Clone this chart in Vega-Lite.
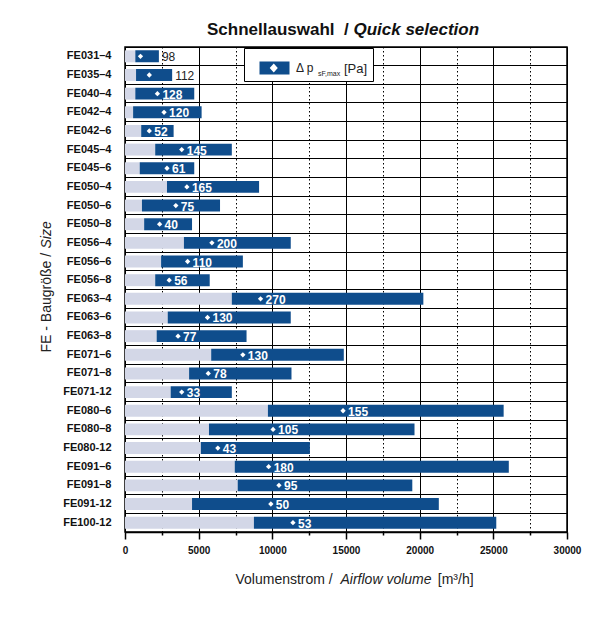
{
  "$schema": "https://vega.github.io/schema/vega-lite/v6.json",
  "autosize": "none",
  "width": 442,
  "height": 485,
  "padding": {"left": 125, "top": 47, "right": 48, "bottom": 86},
  "background": "white",
  "config": {
    "font": "Liberation Sans",
    "view": {"stroke": "black", "strokeWidth": 1.5},
    "axis": {"titleFont": "Liberation Sans", "labelFont": "Liberation Sans"}
  },
  "title": {
    "text": "Schnellauswahl\u00a0\u00a0/",
    "subtitle": "\u200b\u00a0\u00a0\u00a0\u00a0\u00a0\u00a0\u00a0\u00a0\u00a0\u00a0\u00a0\u00a0\u00a0\u00a0\u00a0\u00a0\u00a0\u00a0\u00a0\u00a0\u00a0\u00a0\u00a0\u00a0\u00a0\u00a0\u00a0\u00a0\u00a0\u00a0\u00a0Quick selection",
    "anchor": "start",
    "frame": "group",
    "dx": 82,
    "offset": 8,
    "fontSize": 17,
    "fontWeight": "bold",
    "color": "#111",
    "subtitleFontSize": 17,
    "subtitleFontWeight": "bold",
    "subtitleFontStyle": "italic",
    "subtitleColor": "#111",
    "subtitlePadding": -17,
    "font": "Liberation Sans",
    "subtitleFont": "Liberation Sans"
  },
  "data": {
    "values": [
      {"size": "FE031–4", "start": 700, "end": 2300, "pt": 1050, "dp": 98},
      {"size": "FE035–4", "start": 750, "end": 3200, "pt": 1650, "dp": 112},
      {"size": "FE040–4", "start": 700, "end": 4700, "pt": 2200, "dp": 128},
      {"size": "FE042–4", "start": 550, "end": 5200, "pt": 2650, "dp": 120},
      {"size": "FE042–6", "start": 1100, "end": 3300, "pt": 1650, "dp": 52},
      {"size": "FE045–4", "start": 2050, "end": 7250, "pt": 3850, "dp": 145},
      {"size": "FE045–6", "start": 1000, "end": 4700, "pt": 2850, "dp": 61},
      {"size": "FE050–4", "start": 2850, "end": 9100, "pt": 4200, "dp": 165},
      {"size": "FE050–6", "start": 1150, "end": 6450, "pt": 3450, "dp": 75},
      {"size": "FE050–8", "start": 1300, "end": 4550, "pt": 2350, "dp": 40},
      {"size": "FE056–4", "start": 4000, "end": 11250, "pt": 5900, "dp": 200},
      {"size": "FE056–6", "start": 2450, "end": 8000, "pt": 4250, "dp": 110},
      {"size": "FE056–8", "start": 2050, "end": 5750, "pt": 3000, "dp": 56},
      {"size": "FE063–4", "start": 7250, "end": 20250, "pt": 9200, "dp": 270},
      {"size": "FE063–6", "start": 2900, "end": 11250, "pt": 5600, "dp": 130},
      {"size": "FE063–8", "start": 2150, "end": 8250, "pt": 3600, "dp": 77},
      {"size": "FE071–6", "start": 5850, "end": 14850, "pt": 8000, "dp": 130},
      {"size": "FE071–8", "start": 4350, "end": 11300, "pt": 5650, "dp": 78},
      {"size": "FE071-12", "start": 3100, "end": 7250, "pt": 3850, "dp": 33},
      {"size": "FE080–6", "start": 9700, "end": 25700, "pt": 14800, "dp": 155},
      {"size": "FE080–8", "start": 5700, "end": 19650, "pt": 10050, "dp": 105},
      {"size": "FE080-12", "start": 5150, "end": 12550, "pt": 6300, "dp": 43},
      {"size": "FE091–6", "start": 7450, "end": 26050, "pt": 9750, "dp": 180},
      {"size": "FE091–8", "start": 7650, "end": 19500, "pt": 10450, "dp": 95},
      {"size": "FE091-12", "start": 4550, "end": 21300, "pt": 9900, "dp": 50},
      {"size": "FE100-12", "start": 8750, "end": 25200, "pt": 11400, "dp": 53}
    ]
  },
  "resolve": {"axis": {"x": "independent", "y": "independent"}},
  "layer": [
    {
      "mark": {"type": "bar", "color": "#d3d7e7", "height": {"band": 0.64}},
      "encoding": {
        "y": {
          "field": "size", "type": "nominal", "sort": null,
          "scale": {"paddingInner": 0, "paddingOuter": 0},
          "axis": {
            "orient": "left",
            "title": "FE - Baugröße /",
            "titleFontSize": 14, "titleFontWeight": "normal", "titleColor": "#222",
            "titleAngle": -90, "titleAlign": "left", "titleBaseline": "alphabetic",
            "titleX": -75, "titleY": 305,
            "labelFontSize": 11, "labelFontWeight": "bold", "labelColor": "#111",
            "labelPadding": 14, "ticks": false, "domain": false,
            "grid": true, "gridColor": "black", "gridWidth": 1, "bandPosition": 0, "gridOpacity": 1
          }
        },
        "x": {
          "field": "start", "type": "quantitative",
          "scale": {"domain": [0, 30000], "nice": false},
          "axis": {
            "orient": "bottom",
            "values": [0, 2500, 5000, 7500, 10000, 12500, 15000, 17500, 20000, 22500, 25000, 27500, 30000],
            "format": "d",
            "labelExpr": "datum.value % 5000 === 0 ? datum.label : ''",
            "labelFontSize": 10, "labelFontWeight": "bold", "labelColor": "#111",
            "labelPadding": 6, "labelFlush": false,
            "tickColor": "black", "tickWidth": 1.5,
            "tickSize": {"condition": {"test": "datum.value % 5000 === 0", "value": 7}, "value": 3},
            "domainColor": "black", "domainWidth": 1.5,
            "grid": true, "gridColor": "black", "gridWidth": 1, "gridOpacity": 1,
            "gridDash": {"condition": {"test": "datum.value % 5000 !== 0", "value": [1.5, 2.5]}, "value": []},
            "title": "Volumenstrom /\u00a0\u00a0\u00a0\u00a0\u00a0\u00a0\u00a0\u00a0\u00a0\u00a0\u00a0\u00a0\u00a0\u00a0\u00a0\u00a0\u00a0\u00a0\u00a0\u00a0\u00a0\u00a0\u00a0\u00a0\u00a0\u00a0\u00a0[m³/h]",
            "titleFontSize": 14, "titleFontWeight": "normal", "titleColor": "#222",
            "titleAlign": "left", "titleBaseline": "alphabetic",
            "titleX": 110, "titleY": 51
          }
        }
      }
    },
    {
      "mark": {"type": "bar", "height": {"band": 0.64}},
      "encoding": {
        "y": {
          "field": "size", "type": "nominal", "sort": null,
          "axis": {
            "orient": "right", "labels": false, "ticks": false, "domain": false, "grid": false,
            "title": "Size", "titleFontSize": 14, "titleFontWeight": "normal", "titleFontStyle": "italic", "titleColor": "#222",
            "titleAngle": -90, "titleAlign": "left", "titleBaseline": "alphabetic",
            "titleX": -517, "titleY": 201
          }
        },
        "x": {
          "field": "start", "type": "quantitative",
          "axis": {
            "orient": "top", "labels": false, "ticks": false, "domain": false, "grid": false,
            "title": "Airflow volume", "titleFontSize": 14, "titleFontWeight": "normal", "titleFontStyle": "italic", "titleColor": "#222",
            "titleAlign": "left", "titleBaseline": "alphabetic",
            "titleX": 215, "titleY": 536
          }
        },
        "x2": {"field": "end"},
        "color": {
          "datum": "Δ p",
          "scale": {"range": ["#0f4d8c"]},
          "legend": {
            "orient": "none", "legendX": 119, "legendY": 1,
            "title": "[Pa]", "titleOrient": "right", "titlePadding": 30,
            "titleFontSize": 13, "titleFontWeight": "normal", "titleColor": "#222",
            "titleFont": "Liberation Sans", "titleBaseline": "line-top", "titleLineHeight": 10, "titleAlign": "left",
            "labelFontSize": 12, "labelColor": "#222", "labelOffset": 17, "labelFont": "Liberation Sans",
            "symbolType": "M-0.3,-0.43H1.7V0.43H-0.3Z M0.65,-0.3L0.38,0L0.65,0.3L0.92,0Z",
            "symbolSize": 900, "symbolStrokeWidth": 0, "symbolOpacity": 1,
            "strokeColor": "black", "fillColor": "white", "padding": 5
          }
        }
      }
    },
    {
      "mark": {"type": "point", "filled": true, "size": 28, "color": "white", "opacity": 1},
      "encoding": {
        "y": {"field": "size", "type": "nominal", "sort": null, "axis": null},
        "x": {"field": "pt", "type": "quantitative", "axis": null},
        "shape": {
          "datum": "sF,max",
          "scale": {"range": ["diamond"]},
          "legend": {
            "orient": "none", "legendX": 186, "legendY": 23,
            "title": null, "labelFontSize": 7, "labelColor": "#222", "labelFont": "Liberation Sans",
            "symbolOpacity": 0, "symbolSize": 1, "labelOffset": 0, "padding": 0
          }
        }
      }
    },
    {
      "transform": [{"filter": "indexof(['FE031–4', 'FE035–4'], datum.size) < 0"}],
      "mark": {"type": "text", "align": "left", "baseline": "middle", "dx": 5, "dy": 1, "color": "white", "fontWeight": "bold", "fontSize": 12, "font": "Liberation Sans"},
      "encoding": {
        "y": {"field": "size", "type": "nominal", "sort": null, "axis": null},
        "x": {"field": "pt", "type": "quantitative", "axis": null},
        "text": {"field": "dp"}
      }
    },
    {
      "transform": [{"filter": "indexof(['FE031–4', 'FE035–4'], datum.size) >= 0"}],
      "mark": {"type": "text", "align": "left", "baseline": "middle", "dx": 3, "dy": 1, "color": "#222", "fontSize": 12, "font": "Liberation Sans"},
      "encoding": {
        "y": {"field": "size", "type": "nominal", "sort": null, "axis": null},
        "x": {"field": "end", "type": "quantitative", "axis": null},
        "text": {"field": "dp"}
      }
    }
  ]
}
